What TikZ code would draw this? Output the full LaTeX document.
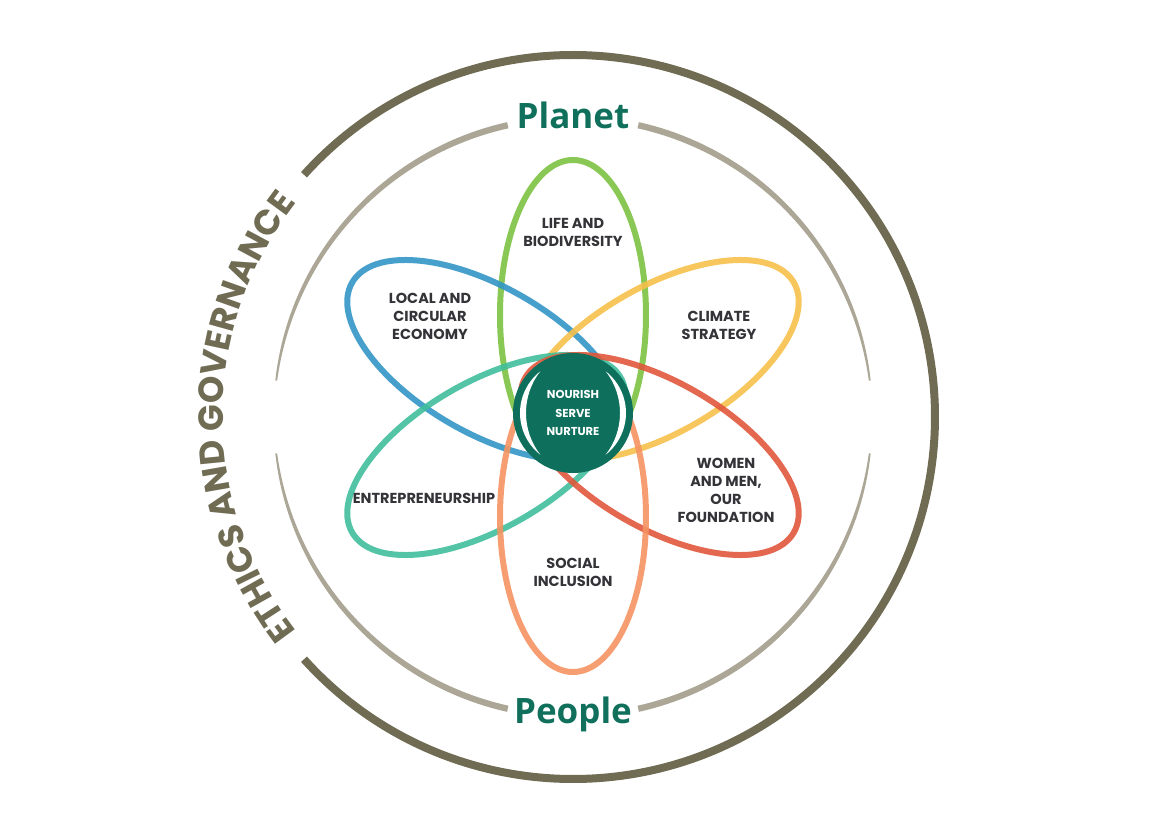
\documentclass[tikz,border=0pt]{standalone}
\usepackage{fontspec}
\setmainfont{Open Sans}
\newfontfamily\labelfont{Poppins}
\usepackage{tikz}
\usetikzlibrary{positioning, decorations.text}
\definecolor{myolive}{RGB}{112,108,84}
\definecolor{myring}{RGB}{171,166,150}
\definecolor{mypillar}{RGB}{16,112,92}
\definecolor{mycore}{RGB}{14,112,92}
\definecolor{mytext}{RGB}{51,51,56}
\definecolor{pgreen}{RGB}{125,194,66}
\definecolor{pblue}{RGB}{51,150,199}
\definecolor{pyellow}{RGB}{246,192,74}
\definecolor{pred}{RGB}{225,87,60}
\definecolor{pteal}{RGB}{64,190,155}
\definecolor{porange}{RGB}{245,148,98}
\tikzset{
  petal/.style={line width=6pt, draw opacity=0.9},
  topic/.style={font=\labelfont\bfseries\fontsize{14.5}{18}\selectfont,
    text=mytext, align=center, inner sep=0pt},
  pillar/.style={font=\bfseries\fontsize{35}{38}\selectfont, text=mypillar, inner sep=0pt},
  corebox/.style={circle, fill=mycore, minimum size=120pt, inner sep=0pt,
    font=\labelfont\bfseries\fontsize{11.5}{18.5}\selectfont, text=white, align=center},
  declare function={gw(\a)=3.2*abs(sin(\a))^0.6;}
}
% tapered arc of the inner ring
\newcommand{\ringarc}[2]{%
  \fill[myring] plot[domain=#1:#2, samples=50] (\x:{299+gw(\x)})
    -- plot[domain=#2:#1, samples=50] (\x:{299-gw(\x)}) -- cycle;}
% one petal ellipse
\newcommand{\petal}[3]{%
  \draw[petal, #3, shift={(#1)}, rotate=#2] (0,0) ellipse[x radius=155, y radius=73];}
\begin{document}
\begin{tikzpicture}[x=1pt, y=1pt]
  \useasboundingbox (-573,-416) rectangle (592,417);

  % Outer ring
  \draw[myolive, line width=8pt] (-138:362) arc[start angle=-138, end angle=138, radius=362];
  \path[decorate, decoration={text along path, text align=center,
    text={|\labelfont\bfseries\fontsize{35}{35}\selectfont\color{myolive}|ETHICS AND GOVERNANCE}}]
    (223:350) arc[start angle=223, end angle=137, radius=350];

  % Inner ring
  \ringarc{7}{77.4}
  \ringarc{102.6}{173}
  \ringarc{187}{257.4}
  \ringarc{282.6}{353}

  % Petals
  \petal{0,102}{90}{pgreen}
  \petal{-86.6,57}{150}{pblue}
  \petal{86.6,57}{30}{pyellow}
  \petal{-86.6,-38}{210}{pteal}
  \petal{86.6,-38}{-30}{pred}
  \petal{0,-100}{-90}{porange}

  % Core
  \node[corebox] (core) at (0,4) {NOURISH\\SERVE\\NURTURE};
  \fill[white, shift={(core.center)}] (128:53) arc[start angle=128, end angle=232, radius=53]
    arc[start angle=218, end angle=142, radius=67.9] -- cycle;
  \fill[white, shift={(core.center)}] (52:53) arc[start angle=52, end angle=-52, radius=53]
    arc[start angle=-38, end angle=38, radius=67.9] -- cycle;

  % Pillars
  \node[pillar] (planet) at (0,302) {Planet};
  \node[pillar] (people) at (0,-297) {People};

  % Topics
  \node[topic] (life) at (0,185) {LIFE AND\\BIODIVERSITY};
  \node[topic] (local) at (-143,101) {LOCAL AND\\CIRCULAR\\ECONOMY};
  \node[topic] (climate) at (146,92) {CLIMATE\\STRATEGY};
  \node[topic] (entre) at (-149,-81) {ENTREPRENEURSHIP};
  \node[topic] (women) at (153,-73) {WOMEN\\AND MEN,\\OUR\\FOUNDATION};
  \node[topic] (social) at (0,-155) {SOCIAL\\INCLUSION};
\end{tikzpicture}
\end{document}
